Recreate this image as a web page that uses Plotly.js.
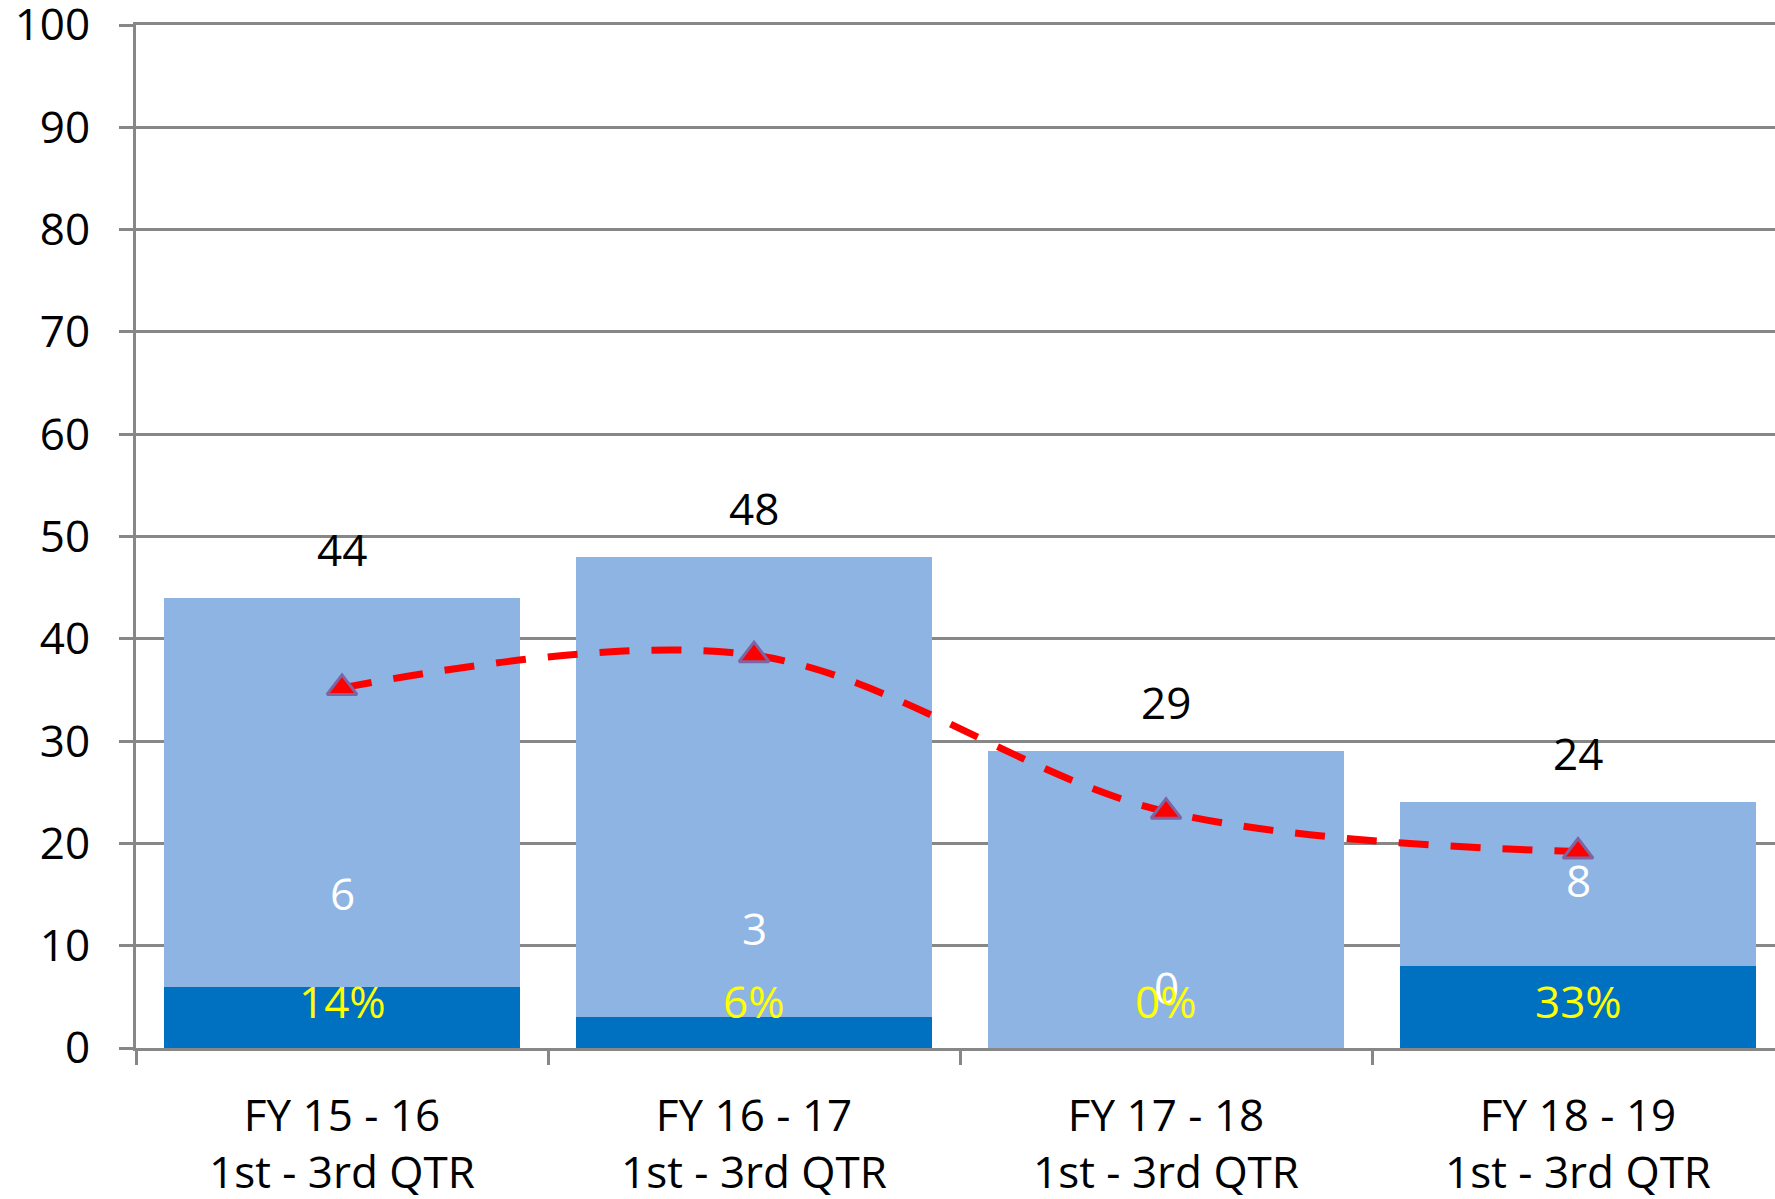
<!DOCTYPE html>
<html>
<head>
<meta charset="utf-8">
<script src="https://cdn.plot.ly/plotly-3.0.1.min.js"></script>
<style>
html,body{margin:0;padding:0;background:#fff;}
#chart{width:1775px;height:1199px;}
</style>
</head>
<body>
<div id="chart"></div>
<script>
// ---- data ----
const categories = [
  "FY 15 - 16<br>1st - 3rd QTR",
  "FY 16 - 17<br>1st - 3rd QTR",
  "FY 17 - 18<br>1st - 3rd QTR",
  "FY 18 - 19<br>1st - 3rd QTR"
];
const totals = [44, 48, 29, 24];          // total per year
const subset = [6, 3, 0, 8];              // dark-blue portion
const trendValues = [35.2, 38.4, 23.1, 19.2]; // red dashed line
const yTickValues = [0, 10, 20, 30, 40, 50, 60, 70, 80, 90, 100];
const subsetLabelLevels = [15.2, 11.7, 6.0, 16.4]; // where the white count labels sit

// derived
const remainder = totals.map((t, i) => t - subset[i]);
const pctText = totals.map((t, i) => Math.round(subset[i] / t * 100) + "%");

const FONT = "Open Sans, Noto Sans, sans-serif";
const GRID = "#878787";

const traces = [
  {
    type: "bar", x: categories, y: subset,
    marker: {color: "#0070C0", line: {width: 0}},
    hoverinfo: "skip", showlegend: false
  },
  {
    type: "bar", x: categories, y: remainder,
    marker: {color: "#8EB4E3", line: {width: 0}},
    hoverinfo: "skip", showlegend: false
  },
  {
    type: "scatter", mode: "lines+markers", x: categories, y: trendValues,
    line: {color: "#FF0000", width: 7, dash: "30px,22px", shape: "spline", smoothing: 1},
    marker: {symbol: "triangle-up", size: 26, color: "#FF0000", line: {color: "#8064A2", width: 3}},
    hoverinfo: "skip", showlegend: false
  }
];

const annotations = [];
categories.forEach((c, i) => {
  annotations.push({
    x: c, y: totals[i], xref: "x", yref: "y", yshift: 49,
    text: String(totals[i]), showarrow: false,
    font: {family: FONT, size: 44, color: "#000000"}
  });
  annotations.push({
    x: c, y: subsetLabelLevels[i], xref: "x", yref: "y",
    text: String(subset[i]), showarrow: false,
    font: {family: FONT, size: 44, color: "#FFFFFF"}
  });
  annotations.push({
    x: c, y: 0, xref: "x", yref: "y", yshift: 47,
    text: pctText[i], showarrow: false,
    font: {family: FONT, size: 44, color: "#FFFF00"}
  });
});

const layout = {
  width: 1775, height: 1199,
  paper_bgcolor: "#ffffff", plot_bgcolor: "#ffffff",
  margin: {l: 136, r: 0, t: 25, b: 151, pad: 0},
  barmode: "stack", bargap: 0.136,
  font: {family: FONT, size: 44, color: "#000000"},
  showlegend: false,
  xaxis: {
    type: "category", range: [-0.5, 3.478],
    showline: true, linecolor: GRID, linewidth: 3, mirror: true,
    ticks: "outside", tickson: "boundaries", ticklen: 14, tickwidth: 3, tickcolor: GRID,
    showgrid: false, zeroline: false,
    ticklabelstandoff: 27,
    ticklabeloverflow: "allow",
    tickfont: {family: FONT, size: 44, color: "#000000"},
    fixedrange: true
  },
  yaxis: {
    range: [0, 100],
    tickmode: "array", tickvals: yTickValues, ticktext: yTickValues.map(String),
    showline: true, linecolor: GRID, linewidth: 3,
    ticks: "outside", ticklen: 14, tickwidth: 3, tickcolor: GRID,
    showgrid: true, gridcolor: GRID, gridwidth: 3,
    zeroline: false,
    ticklabelstandoff: 20,
    ticklabeloverflow: "allow",
    tickfont: {family: FONT, size: 44, color: "#000000"},
    fixedrange: true
  },
  annotations: annotations
};

Plotly.newPlot("chart", traces, layout, {displayModeBar: false, staticPlot: true});
</script>
</body>
</html>
